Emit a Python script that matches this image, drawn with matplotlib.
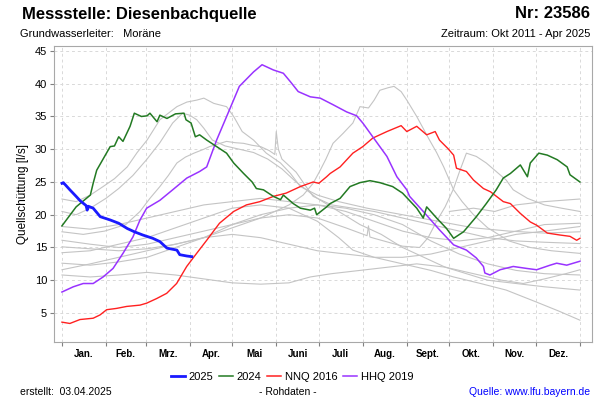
import numpy as np
import matplotlib.pyplot as plt

plt.rcParams['font.family'] = ['Liberation Sans', 'DejaVu Sans']

# month axis
months = ['Jan.', 'Feb.', 'Mrz.', 'Apr.', 'Mai', 'Juni', 'Juli', 'Aug.', 'Sept.', 'Okt.', 'Nov.', 'Dez.']
month_len = [31, 28, 31, 30, 31, 30, 31, 31, 30, 31, 30, 31]
yticks = [5, 10, 15, 20, 25, 30, 35, 40, 45]

# highlighted years (day of year, l/s)
d2025 = [0, 1, 5.6, 10, 13, 17, 17.8, 18.5, 22, 27, 34, 40, 46, 51, 57, 64, 69, 74, 81, 83, 88, 91.5]
q2025 = [24.8, 24.9, 23.8, 22.8, 22.1, 21.4, 20.7, 21.3, 21.0, 19.7, 19.2, 18.7, 17.9, 17.4, 16.9, 16.4, 15.9, 14.9, 14.6, 13.9, 13.7, 13.6]

d2024 = [0, 10, 20, 22, 24.5, 34, 37, 40, 43, 48, 51, 56, 60, 62, 67, 69, 74, 80, 86, 87.4, 91, 94, 97, 102,
         109, 116, 121, 128, 134, 137, 142, 149, 154, 156, 163, 168, 175, 178, 179.5, 186.5, 189, 196, 203,
         210, 217, 224, 233, 240, 250, 254.6, 257, 264, 271, 276, 283, 292, 299, 306, 311, 316, 323, 328,
         330, 336, 342, 349, 356, 358, 365]
q2024 = [18.3, 21.2, 23.0, 24.8, 26.8, 30.4, 30.5, 31.9, 31.2, 33.5, 35.5, 35.0, 35.1, 35.5, 34.2, 35.2, 34.7,
         35.4, 35.5, 34.5, 34.0, 31.9, 32.2, 31.4, 30.4, 29.4, 27.9, 26.3, 25.0, 24.0, 23.8, 22.8, 22.3, 23.0,
         21.7, 21.0, 20.7, 21.0, 20.0, 21.2, 21.7, 22.5, 24.3, 24.9, 25.2, 24.9, 24.3, 23.3, 21.0, 19.5, 21.2,
         19.5, 17.9, 16.4, 17.4, 19.7, 21.7, 23.8, 25.6, 26.3, 27.6, 25.8, 27.9, 29.4, 29.1, 28.4, 27.3, 26.1, 25.0]

d2016 = [0, 5.6, 12.7, 22, 26.8, 31.5, 38.5, 45.6, 55, 59.7, 66.7, 73.8, 80.8, 87.9, 94.9, 102, 111, 121,
         130, 139.5, 149, 158, 168, 177, 181, 186.5, 189, 196, 205, 212, 219, 229, 239, 243, 250, 257, 263,
         266, 272, 276, 278, 285, 290, 297, 302, 311, 316, 323, 330, 334.5, 342, 351, 358, 362.7, 365]
q2016 = [3.6, 3.4, 4.0, 4.2, 4.7, 5.5, 5.7, 6.0, 6.2, 6.5, 7.2, 8.0, 9.5, 12.1, 14.1, 16.1, 18.7, 20.5, 21.5,
         22.0, 22.8, 23.3, 24.3, 25.0, 24.8, 25.8, 26.3, 27.3, 29.4, 30.4, 31.7, 32.7, 33.6, 32.7, 33.5, 32.2,
         32.7, 31.4, 30.1, 29.1, 27.1, 26.6, 25.3, 24.0, 23.5, 22.0, 21.7, 20.2, 18.9, 18.4, 17.2, 16.9, 16.7,
         16.1, 16.4]

d2019 = [0, 8, 15, 22, 29, 36, 43, 50, 55, 59.7, 69, 78, 88, 97, 102, 109, 118, 125, 135, 141, 149, 156,
         161, 166.5, 175, 182, 191, 200.6, 207.7, 212, 219, 229, 236, 243, 245, 254.6, 266, 276, 285, 292,
         297, 298, 301.6, 308.7, 318, 327.5, 334.5, 344, 348.6, 355.7, 365]
q2019 = [8.2, 9.0, 9.5, 9.5, 10.5, 11.8, 14.1, 16.6, 19.2, 21.0, 22.2, 23.8, 25.6, 26.6, 27.3, 31.4, 36.0,
         39.6, 41.8, 42.9, 42.1, 41.6, 40.3, 38.8, 38.0, 37.8, 36.8, 35.7, 35.1, 34.0, 31.9, 28.9, 25.8, 23.8,
         22.8, 20.5, 17.7, 15.4, 14.6, 13.4, 12.1, 11.1, 10.8, 11.6, 12.1, 11.8, 11.6, 12.3, 12.6, 12.3, 12.9]

# other years of the record (grey)
d2011 = [273, 290, 305, 320, 340, 365]
q2011 = [20.5, 21.0, 20.5, 21.5, 22.0, 22.4]
d2012 = [0, 10, 20, 29, 37, 46, 53, 60, 69, 75, 81, 88, 95, 100, 107, 116, 121, 127, 135, 144, 154, 161,
         168, 180, 195, 215, 240, 265, 290, 315, 340, 365]
q2012 = [22.4, 22.0, 23.0, 24.3, 25.5, 27.3, 29.5, 31.4, 34.5, 35.5, 36.5, 37.2, 37.5, 37.8, 37.0, 36.5,
         35.0, 32.7, 31.4, 29.4, 27.9, 26.3, 24.3, 23.0, 22.0, 21.0, 20.0, 19.0, 18.0, 17.5, 17.2, 17.4]
d2013 = [0, 15, 30, 45, 55, 62, 69, 75, 81, 87, 93, 100, 104, 110, 116, 122, 128, 134, 140, 146, 150, 151,
         152.5, 155, 160, 165, 172, 177, 190, 205, 220, 240, 260, 280, 300, 320, 340, 365]
q2013 = [17.4, 17.0, 17.5, 18.5, 20.5, 22.5, 24.3, 26.0, 27.9, 28.8, 29.4, 30.0, 30.4, 30.8, 31.2, 31.0,
         30.9, 30.6, 30.4, 29.8, 29.2, 32.7, 30.0, 28.5, 27.5, 26.5, 24.3, 22.8, 21.5, 21.0, 20.5, 19.5, 18.5,
         17.5, 16.5, 16.0, 15.8, 15.6]
d2014 = [0, 20, 40, 60, 80, 100, 120, 140, 160, 170, 177, 182, 186, 191, 198, 205, 210, 216, 220, 224, 230,
         234, 239, 243, 250, 255, 259, 264, 269, 276, 282, 290, 300, 315, 330, 345, 365]
q2014 = [15.1, 14.8, 14.5, 14.8, 15.5, 16.5, 18.0, 19.5, 21.5, 23.0, 24.8, 26.8, 28.5, 30.9, 32.4, 34.0,
         36.5, 36.3, 37.5, 39.0, 39.4, 39.6, 38.8, 37.5, 35.0, 33.0, 31.4, 29.5, 27.3, 23.8, 22.0, 20.0, 18.0,
         16.0, 15.0, 14.5, 14.1]
d2015 = [0, 20, 40, 60, 80, 100, 120, 140, 160, 180, 195, 205, 220, 240, 260, 276, 295, 313, 334, 350, 365]
q2015 = [14.2, 14.5, 15.5, 16.5, 18.0, 19.5, 21.0, 21.5, 21.0, 19.0, 16.5, 14.6, 13.5, 12.5, 11.5, 10.5,
         9.5, 8.5, 6.7, 5.3, 3.9]
d2017 = [0, 20, 40, 60, 80, 100, 120, 140, 160, 180, 200, 215, 216, 217, 220, 240, 252, 258, 264, 270, 276,
         280, 285, 292, 299, 306, 313, 318, 328, 340, 352, 365]
q2017 = [16.1, 15.5, 15.0, 15.5, 16.5, 17.5, 18.5, 19.5, 20.0, 19.5, 18.0, 16.8, 18.3, 16.6, 16.4, 15.2,
         15.0, 16.5, 19.0, 21.2, 24.0, 26.5, 29.4, 28.9, 27.9, 26.6, 25.3, 23.8, 22.5, 21.5, 21.0, 20.5]
d2018 = [0, 10, 20, 31, 40, 50, 60, 69, 78, 85, 90, 95, 100, 106, 115, 125, 135, 145, 155, 165, 180, 195,
         210, 225, 240, 255, 270, 285, 300, 320, 340, 365]
q2018 = [20.5, 20.0, 21.0, 22.5, 24.0, 26.0, 28.5, 31.0, 34.0, 35.5, 35.2, 34.5, 33.2, 31.4, 30.5, 30.0,
         29.5, 28.5, 27.0, 25.0, 22.5, 20.5, 18.5, 17.0, 15.0, 13.5, 12.0, 11.0, 10.0, 9.5, 9.0, 8.5]
d2020 = [0, 20, 40, 60, 80, 100, 120, 140, 160, 180, 200, 220, 240, 260, 280, 300, 320, 340, 365]
q2020 = [12.6, 12.3, 12.8, 13.5, 15.0, 16.5, 18.5, 20.0, 21.0, 21.5, 21.0, 20.0, 18.5, 16.0, 14.0, 12.5,
         11.5, 11.0, 10.8]
d2021 = [0, 20, 40, 60, 80, 100, 120, 140, 160, 175, 190, 210, 230, 250, 270, 290, 310, 325, 340, 355, 365]
q2021 = [10.8, 10.5, 10.8, 11.2, 10.8, 10.2, 9.6, 9.4, 9.6, 10.5, 11.0, 11.5, 12.0, 12.5, 12.0, 11.0, 10.0,
         9.5, 10.2, 11.0, 11.6]
d2022 = [0, 20, 40, 60, 80, 100, 120, 140, 160, 180, 200, 220, 240, 260, 280, 300, 320, 340, 365]
q2022 = [11.6, 12.5, 13.5, 14.5, 15.5, 16.5, 17.0, 16.5, 15.5, 14.5, 14.0, 13.5, 13.5, 14.0, 15.0, 16.0,
         17.0, 17.5, 18.2]
d2023 = [0, 20, 40, 60, 80, 100, 120, 140, 160, 180, 200, 220, 240, 260, 280, 300, 320, 340, 365]
q2023 = [18.2, 17.8, 18.5, 19.5, 20.5, 21.5, 22.0, 22.5, 22.0, 21.5, 20.5, 19.0, 17.5, 16.5, 16.0, 16.5,
         17.5, 18.5, 18.7]

grey_years = [(d2011, q2011), (d2012, q2012), (d2013, q2013), (d2014, q2014), (d2015, q2015),
              (d2017, q2017), (d2018, q2018), (d2020, q2020), (d2021, q2021), (d2022, q2022),
              (d2023, q2023)]

fig = plt.figure(figsize=(6, 4), dpi=100)
ax = fig.add_axes([54 / 600, 58 / 400, 538 / 600, 296 / 400])

for d, q in grey_years:
    ax.plot(d, q, color='#c4c4c4', lw=0.8, zorder=2)

ax.plot(d2016, q2016, color='#ff2020', lw=1.0, zorder=3)
ax.plot(d2019, q2019, color='#9933ff', lw=1.1, zorder=3)
ax.plot(d2024, q2024, color='#237a23', lw=1.1, zorder=4)
ax.plot(d2025, q2025, color='#1a1aff', lw=2.0, zorder=5)

bounds = np.concatenate([[0], np.cumsum(month_len)])
centers = (bounds[:-1] + bounds[1:]) / 2
ax.set_xlim(-5.6, 373.5)
ax.set_ylim(0.57, 45.76)
ax.set_xticks(bounds)
ax.set_xticklabels([])
ax.set_xticks(centers, minor=True)
ax.set_xticklabels(months, minor=True, fontsize=7, fontweight='bold')
ax.tick_params(axis='x', which='minor', length=0, pad=5)
ax.tick_params(axis='x', which='major', length=3, color='#808080')
ax.set_yticks(yticks)
ax.tick_params(axis='y', length=3, color='#808080', labelsize=8, pad=2)
ax.grid(True, which='major', color='#d9d9d9', linestyle=(0, (3, 3)), lw=0.7)
for s in ax.spines.values():
    s.set_color('#a8a8a8')
ax.set_ylabel('Quellschüttung [l/s]', fontsize=8.5, labelpad=4)

fig.text(22 / 600, 1 - 14 / 400, 'Messstelle: Diesenbachquelle', fontsize=12, fontweight='bold', va='center')
fig.text(590 / 600, 1 - 14 / 400, 'Nr: 23586', fontsize=12, fontweight='bold', va='center', ha='right')
fig.text(20 / 600, 1 - 34 / 400, 'Grundwasserleiter:   Moräne', fontsize=8, va='center')
fig.text(590 / 600, 1 - 34 / 400, 'Zeitraum: Okt 2011 - Apr 2025', fontsize=8, va='center', ha='right')

handles = [plt.Line2D([], [], color='#1a1aff', lw=2.0),
           plt.Line2D([], [], color='#237a23', lw=1.1),
           plt.Line2D([], [], color='#ff2020', lw=1.1),
           plt.Line2D([], [], color='#9933ff', lw=1.1)]
fig.legend(handles, ['2025', '2024', 'NNQ 2016', 'HHQ 2019'], loc='center', ncol=4,
           bbox_to_anchor=(292 / 600, 1 - 377 / 400), frameon=False, fontsize=8,
           handlelength=1.3, handletextpad=0.3, columnspacing=0.5)

fig.text(20 / 600, 1 - 392 / 400, 'erstellt:  03.04.2025', fontsize=7.5, va='center')
fig.text(288 / 600, 1 - 392 / 400, '- Rohdaten -', fontsize=7.5, va='center', ha='center')
fig.text(590 / 600, 1 - 392 / 400, 'Quelle: www.lfu.bayern.de', fontsize=7.5, va='center', ha='right',
         color='#0000ff')

fig.savefig('out.png', dpi=100)
